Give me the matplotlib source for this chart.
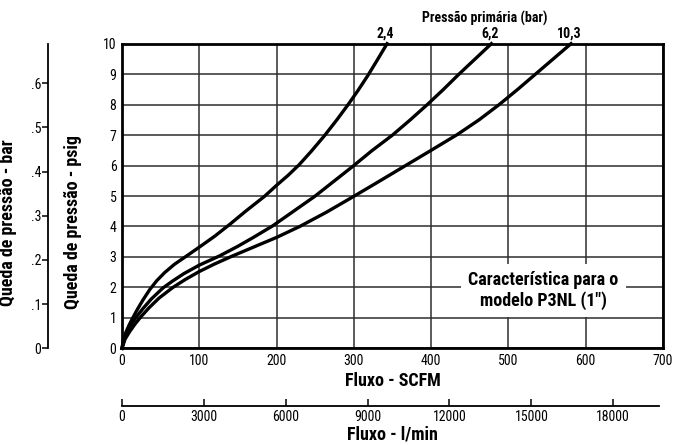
import matplotlib
matplotlib.use("Agg")
import matplotlib.pyplot as plt

# leitura aproximada das curvas (SCFM, psig)
flow_24 = [0, 2, 5, 9, 14, 20, 27, 36, 45, 55, 68, 83, 100, 120, 140, 160, 184, 200,
           215, 229, 245, 262, 278, 292, 305, 318, 330, 343]
dp_24 = [0, 0.3, 0.52, 0.75, 1.0, 1.28, 1.58, 1.93, 2.22, 2.48, 2.76, 3.02, 3.32, 3.68,
         4.08, 4.5, 4.98, 5.35, 5.68, 6.02, 6.47, 6.98, 7.5, 7.98, 8.45, 8.95, 9.45, 10.0]

flow_62 = [0, 3, 8, 13, 19, 27, 38, 53, 65, 80, 100, 126, 150, 170, 195, 222, 249, 274,
           298, 323, 350, 373, 395, 416, 436, 457, 478]
dp_62 = [0, 0.3, 0.6, 0.82, 1.04, 1.3, 1.62, 1.98, 2.2, 2.45, 2.73, 3.03, 3.35, 3.64,
         4.02, 4.5, 4.98, 5.48, 5.96, 6.48, 7.0, 7.5, 8.0, 8.5, 9.0, 9.5, 10.0]

flow_103 = [0, 4, 10, 17, 25, 35, 48, 66, 82, 100, 120, 142, 170, 200, 230, 264, 298,
            332, 367, 400, 434, 462, 488, 512, 535, 558, 581]
dp_103 = [0, 0.3, 0.55, 0.8, 1.05, 1.33, 1.65, 2.0, 2.26, 2.52, 2.77, 3.02, 3.32, 3.64,
          4.0, 4.46, 4.96, 5.47, 6.0, 6.5, 7.02, 7.5, 8.0, 8.5, 9.0, 9.5, 10.0]

curve_labels = ["2,4", "6,2", "10,3"]

scfm_ticks = [0, 100, 200, 300, 400, 500, 600, 700]
psig_ticks = list(range(0, 11))
bar_ticks = [0, 0.1, 0.2, 0.3, 0.4, 0.5, 0.6]
bar_ticklabels = ["0", ".1", ".2", ".3", ".4", ".5", ".6"]
lmin_ticks = [0, 3000, 6000, 9000, 12000, 15000, 18000]

PSI_PER_BAR = 14.5
LMIN_PER_SCFM = 28.317

plt.rcParams["font.family"] = ["Roboto Condensed", "DejaVu Sans"]
LAB = 13
TICK = 10

fig = plt.figure(figsize=(6.75, 4.45), dpi=100)

# eixo principal
ax = fig.add_axes([0.1807, 0.2173, 0.8015, 0.6845])
ax.set_xlim(0, 700)
ax.set_ylim(0, 10)
ax.set_xticks(scfm_ticks)
ax.set_yticks(psig_ticks)
ax.grid(True, color="#2e2e2e", linewidth=1.1)
ax.set_axisbelow(True)
for s in ax.spines.values():
    s.set_linewidth(2)
ax.tick_params(length=0, labelsize=TICK, pad=4)
ax.set_xlabel("Fluxo - SCFM", fontsize=LAB, fontweight="bold", labelpad=3)
ax.set_ylabel("Queda de pressão - psig", fontsize=LAB, fontweight="bold")
ax.yaxis.set_label_coords(82 / 675, 0.5, transform=fig.transFigure)

for fx, dy in [(flow_24, dp_24), (flow_62, dp_62), (flow_103, dp_103)]:
    ax.plot(fx, dy, color="black", linewidth=2.4, solid_joinstyle="round", clip_on=False)

ax.text(469, 10.84, "Pressão primária (bar)", ha="center", va="center",
        fontsize=10, fontweight="bold")
for fx, lab in zip([flow_24, flow_62, flow_103], curve_labels):
    ax.text(fx[-1] - 2, 10.35, lab, ha="center", va="center",
            fontsize=10, fontweight="bold")

ax.text(545, 1.9, "Característica para o\nmodelo P3NL (1\")", ha="center", va="center",
        fontsize=LAB, fontweight="bold", linespacing=1.15,
        bbox=dict(boxstyle="square,pad=0.4", fc="white", ec="none"))

# eixo em bar
axb = fig.add_axes([0.0711, 0.2173, 0.001, 0.6845])
axb.set_ylim(0, 10 / PSI_PER_BAR)
axb.set_xticks([])
axb.set_yticks(bar_ticks)
axb.set_yticklabels(bar_ticklabels)
for k in ["top", "right", "bottom"]:
    axb.spines[k].set_visible(False)
axb.spines["left"].set_linewidth(1.3)
axb.tick_params(axis="y", length=4, width=1.1, labelsize=TICK, pad=1)
axb.set_ylabel("Queda de pressão - bar", fontsize=LAB, fontweight="bold")
axb.yaxis.set_label_coords(17 / 675, 0.5, transform=fig.transFigure)
axb.patch.set_visible(False)

# eixo em l/min
axl = fig.add_axes([0.1807, 0.0883, 0.8015, 0.001])
axl.set_xlim(0, 700 * LMIN_PER_SCFM)
axl.set_yticks([])
axl.set_xticks(lmin_ticks)
for k in ["top", "right", "left"]:
    axl.spines[k].set_visible(False)
axl.spines["bottom"].set_linewidth(1.3)
axl.spines["bottom"].set_bounds(0, 695 * LMIN_PER_SCFM)
axl.tick_params(axis="x", direction="in", length=5, width=1.1, labelsize=TICK, pad=3)
axl.set_xlabel("Fluxo - l/min", fontsize=LAB, fontweight="bold", labelpad=1)
axl.patch.set_visible(False)

fig.savefig("out.png", dpi=100)
